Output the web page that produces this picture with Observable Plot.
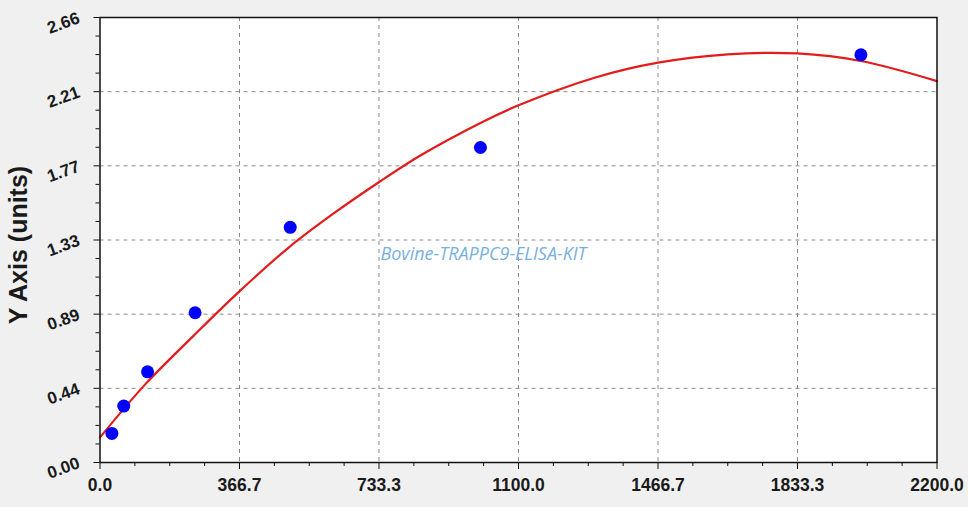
<!DOCTYPE html>
<html>
<head>
<meta charset="utf-8">
<script src="https://cdn.jsdelivr.net/npm/d3@7"></script>
<script src="https://cdn.jsdelivr.net/npm/@observablehq/plot@0.6"></script>
<style>
  html, body { margin: 0; padding: 0; background: #f0f0f0; }
  #chart { width: 968px; height: 507px; }
</style>
</head>
<body>
<div id="chart"></div>
<script>
// Standard points (concentration, OD)
const stdX = [31.25, 62.5, 125, 250, 500, 1000, 2000];
const stdY = [0.174, 0.337, 0.542, 0.895, 1.406, 1.883, 2.437];

// Fitted curve
const curveX = [0, 120, 247, 365, 496, 615, 733, 842, 1000, 1100, 1300, 1466.7, 1650, 1833.3, 2000, 2200];
const curveY = [0.15, 0.47, 0.76, 1.02, 1.285, 1.49, 1.675, 1.835, 2.03, 2.135, 2.30, 2.39, 2.44, 2.445, 2.40, 2.28];

// Axis ticks
const xTicks = [0, 366.7, 733.3, 1100, 1466.7, 1833.3, 2200];
const xTickLabels = ["0.0", "366.7", "733.3", "1100.0", "1466.7", "1833.3", "2200.0"];
const yTicks = [0, 0.4433, 0.8867, 1.33, 1.7733, 2.2167, 2.66];
const yTickLabels = ["0.00", "0.44", "0.89", "1.33", "1.77", "2.21", "2.66"];

const watermark = "Bovine-TRAPPC9-ELISA-KIT";
const yTitle = "Y Axis (units)";

// minor ticks: 3 between each pair of major ticks
function minors(t) {
  const out = [];
  for (let i = 0; i < t.length - 1; i++) {
    const step = (t[i + 1] - t[i]) / 4;
    for (let k = 1; k < 4; k++) out.push(t[i] + k * step);
  }
  return out;
}
const xMinor = minors(xTicks);
const yMinor = minors(yTicks);

const points = stdX.map((x, i) => ({x, y: stdY[i]}));
const curve = curveX.map((x, i) => ({x, y: curveY[i]}));

const font = "'Liberation Sans', Arial, sans-serif";

const chart = Plot.plot({
  width: 968,
  height: 507,
  marginLeft: 99.5,
  marginRight: 31.5,
  marginTop: 17,
  marginBottom: 45,
  style: {background: "#f0f0f0", fontFamily: font, overflow: "visible"},
  x: {domain: [0, 2200]},
  y: {domain: [0, 2.66]},
  marks: [
    Plot.frame({fill: "white"}),
    Plot.gridX(xTicks.slice(1, -1), {stroke: "#8a8a8a", strokeOpacity: 1, strokeDasharray: "4,4"}),
    Plot.gridY(yTicks.slice(1, -1), {stroke: "#8a8a8a", strokeOpacity: 1, strokeDasharray: "4,4"}),
    Plot.text([watermark], {frameAnchor: "middle", dx: -35, dy: 14, fill: "#78b0e0", fontSize: 18, fontStyle: "italic", fontFamily: "'Open Sans', 'DejaVu Sans', sans-serif"}),
    Plot.line(curve, {x: "x", y: "y", stroke: "#e31b1b", strokeWidth: 2.2, curve: "catmull-rom"}),
    Plot.dot(points, {x: "x", y: "y", r: 6.5, fill: "#0000ff", stroke: "none"}),
    Plot.axisX(xMinor, {tickSize: 4, text: null, stroke: "#111", label: null}),
    Plot.axisX(xTicks, {tickSize: 7, tickPadding: 9, stroke: "#111", fill: "#1a1a1a", fontSize: 17.5, fontWeight: "bold",
      tickFormat: d => xTickLabels[xTicks.indexOf(d)], label: null}),
    Plot.axisY(yMinor, {tickSize: 4, text: null, stroke: "#111", label: null}),
    Plot.axisY(yTicks, {tickSize: 6, tickPadding: 15, stroke: "#111", fill: "#1a1a1a", fontSize: 17, fontWeight: "bold",
      tickRotate: -20, textAnchor: "end",
      tickFormat: d => yTickLabels[yTicks.indexOf(d)], label: null}),
    Plot.text([yTitle], {frameAnchor: "left", textAnchor: "middle", rotate: -90, dx: -81, dy: 5, fontSize: 25, fontWeight: "bold", fill: "#1a1a1a"}),
    Plot.frame({stroke: "#111", strokeWidth: 1.5})
  ]
});
document.getElementById("chart").appendChild(chart);
</script>
</body>
</html>
